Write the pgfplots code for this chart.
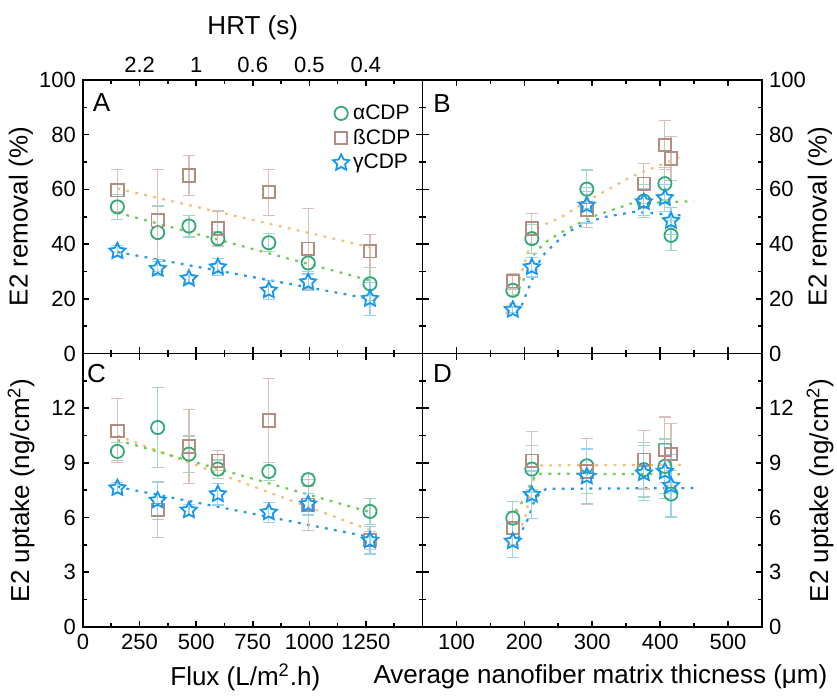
\documentclass[border=0pt]{standalone}
\usepackage{pgfplots}
\usepackage{pgfplotstable}
\pgfplotsset{compat=1.18}
\usepackage{fontspec}
\setmainfont{Liberation Sans}
\definecolor{cA}{RGB}{52,168,118}
\definecolor{cB}{RGB}{178,142,130}
\definecolor{cG}{RGB}{22,152,240}
\definecolor{tA}{RGB}{110,205,80}
\definecolor{tB}{RGB}{245,190,120}
\definecolor{tG}{RGB}{40,150,230}
\pgfdeclareplotmark{fstar}{%
  \pgfpathmoveto{\pgfpointpolar{90}{\pgfplotmarksize}}%
  \pgfpathlineto{\pgfpointpolar{126}{0.5\pgfplotmarksize}}%
  \pgfpathlineto{\pgfpointpolar{162}{\pgfplotmarksize}}%
  \pgfpathlineto{\pgfpointpolar{198}{0.5\pgfplotmarksize}}%
  \pgfpathlineto{\pgfpointpolar{234}{\pgfplotmarksize}}%
  \pgfpathlineto{\pgfpointpolar{270}{0.5\pgfplotmarksize}}%
  \pgfpathlineto{\pgfpointpolar{306}{\pgfplotmarksize}}%
  \pgfpathlineto{\pgfpointpolar{342}{0.5\pgfplotmarksize}}%
  \pgfpathlineto{\pgfpointpolar{18}{\pgfplotmarksize}}%
  \pgfpathlineto{\pgfpointpolar{54}{0.5\pgfplotmarksize}}%
  \pgfpathclose
  \pgfusepathqstroke
}
\tikzset{plabel/.style={font=\fontsize{13}{15}\selectfont}}
\pgfplotsset{
  panel/.style={
    scale only axis, width=169.75pt, height=136.75pt,
    axis line style={line width=0.9pt},
    every tick/.style={black, line width=0.8pt},
    major tick length=3.2pt, minor tick length=1.8pt,
    tick align=inside,
    tick label style={font=\fontsize{11}{13}\selectfont},
    label style={font=\fontsize{13}{15}\selectfont},
    /pgf/number format/assume math mode=true,
    /pgf/number format/1000 sep={},
    xtick pos=both, ytick pos=both,
    legend style={draw=none, fill=none, font=\fontsize{10.5}{11}\selectfont, inner sep=0.5pt, row sep=-0.6pt},
    legend cell align=left,
  },
  sA/.style={only marks, mark=o, mark size=3.3pt, color=cA, line width=0.9pt,
     error bars/y dir=both, error bars/y explicit,
     error bars/error bar style={cA!45, line width=0.6pt},
     error bars/error mark options={rotate=90, mark size=3pt, cA!45, line width=0.6pt}},
  sB/.style={only marks, mark=square, mark size=3.1pt, color=cB, line width=0.9pt,
     error bars/y dir=both, error bars/y explicit,
     error bars/error bar style={cB!55, line width=0.6pt},
     error bars/error mark options={rotate=90, mark size=3pt, cB!55, line width=0.6pt}},
  sG/.style={only marks, mark=fstar, mark size=4.2pt, color=cG, line width=0.9pt,
     error bars/y dir=both, error bars/y explicit,
     error bars/error bar style={cG!45, line width=0.6pt},
     error bars/error mark options={rotate=90, mark size=3pt, cG!45, line width=0.6pt}},
  trend/.style={forget plot, no marks, line width=1.1pt, dash pattern=on 1.4pt off 3.2pt},
}
\pgfplotstableread{
x a ea b eb g eg
152 53.6 4.5 59.7 7.7 37.4 2.0
330 44.2 9.7 48.7 18.7 31.0 2.5
468 46.6 4.0 65.1 7.4 27.4 1.5
596 42.0 2.5 45.7 6.4 31.6 3.0
821 40.5 3.3 59.0 8.4 23.1 3.5
995 33.1 3.0 38.3 14.7 26.1 3.0
1268 25.5 6.0 37.4 6.0 20.0 6.0
}\dataA
\pgfplotstableread{
x a ea b eb g eg
183 23.1 2.0 26.4 2.8 16.0 1.0
211 42.0 5.3 45.7 5.5 31.6 3.6
292 60.1 7.0 52.6 6.6 54.2 6.5
376 55.7 6.0 62.1 7.4 55.4 5.0
407 62.1 6.0 76.2 9.0 56.9 5.0
416 43.2 5.5 71.3 8.0 48.5 5.0
}\dataB
\pgfplotstableread{
x a ea b eb g eg
152 9.63 0.5 10.76 1.75 7.62 0.3
330 10.94 2.2 6.43 1.5 6.94 1.05
468 9.48 1.0 9.90 2.05 6.40 0.3
596 8.66 0.5 9.12 0.55 7.29 0.6
821 8.53 0.5 11.33 2.3 6.29 0.55
995 8.08 0.35 6.71 1.4 6.74 0.6
1268 6.34 0.7 4.75 0.5 4.75 0.75
}\dataC
\pgfplotstableread{
x a ea b eb g eg
183 5.97 0.9 5.43 0.9 4.70 0.9
211 8.66 1.3 9.12 1.6 7.26 1.3
292 8.84 1.5 8.53 1.8 8.26 1.5
376 8.63 1.5 9.17 1.6 8.44 1.5
407 8.81 1.5 9.72 1.8 8.53 1.5
416 7.29 1.3 9.48 1.7 7.75 1.7
}\dataD
\begin{document}
\begin{tikzpicture}
\useasboundingbox (-41.5pt,-34.5pt) rectangle (377pt,313.5pt);
% ---------------- A
\begin{axis}[panel, at={(0pt,136.75pt)}, anchor=south west,
  xmin=0, xmax=1500, ymin=0, ymax=100,
  xtick={0,250,...,1250}, minor xtick={125,375,...,1375},
  xticklabel pos=upper, xticklabels={,2.2,1,0.6,0.5,0.4},
  xlabel={HRT (s)},
  xlabel style={at={(axis description cs:0.5,1)}, anchor=center, yshift=26pt},
  ytick={0,20,...,100}, minor ytick={10,30,...,90},
  ylabel={E2 removal (\%)},
  ylabel style={at={([xshift=-31pt]axis description cs:0,0.5)}, anchor=center},
  legend style={at={(0.98,0.93)}, anchor=north east},
]
\addplot[trend, tB] coordinates {(152,60.3) (1268,38.9)};
\addplot[trend, tA] coordinates {(152,51.5) (1268,26.7)};
\addplot[trend, tG] coordinates {(152,37.1) (1268,20.0)};
\addplot[sA] table[x=x, y=a, y error=ea] {\dataA};
\addlegendentry{αCDP}
\addplot[sB] table[x=x, y=b, y error=eb] {\dataA};
\addlegendentry{ßCDP}
\addplot[sG] table[x=x, y=g, y error=eg] {\dataA};
\addlegendentry{γCDP}
\node[plabel] at (rel axis cs:0,1) [xshift=9.25pt, yshift=-11.25pt] {A};
\end{axis}
% ---------------- B
\begin{axis}[panel, at={(169.75pt,136.75pt)}, anchor=south west,
  xmin=50, xmax=550, ymin=0, ymax=100,
  xtick={100,200,...,500}, minor tick num=1, xticklabels={},
  ytick={0,20,...,100}, minor ytick={10,30,...,90},
  yticklabel pos=right,
  ylabel={E2 removal (\%)},
  ylabel style={at={([xshift=29pt]axis description cs:1,0.5)}, anchor=center, rotate=0},
]
\addplot[trend, tB] coordinates {(173,14.5) (191,25.5) (216,45.7) (255,49.9) (294,56.0) (357,64.6) (433,72.2)};
\addplot[trend, tA] coordinates {(186,20.6) (201,28.0) (216,37.1) (235,41.4) (260,45.1) (299,49.9) (357,54.8) (450,55.7)};
\addplot[trend, tG] coordinates {(196,17.6) (213,28.0) (225,35.3) (245,40.2) (264,44.4) (294,48.1) (318,49.9) (362,51.8) (430,50.5)};
\addplot[sA] table[x=x, y=a, y error=ea] {\dataB};
\addplot[sB] table[x=x, y=b, y error=eb] {\dataB};
\addplot[sG] table[x=x, y=g, y error=eg] {\dataB};
\node[plabel] at (rel axis cs:0,1) [xshift=9.75pt, yshift=-11.75pt] {B};
\end{axis}
% ---------------- C
\begin{axis}[panel, at={(0pt,0pt)}, anchor=south west,
  xmin=0, xmax=1500, ymin=0, ymax=15,
  xtick={0,250,...,1250}, minor xtick={125,375,...,1375},
  ytick={0,3,...,12}, minor ytick={1.5,4.5,...,13.5},
  xlabel={Flux (L/m\textsuperscript{2}.h)},
  xlabel style={at={(axis description cs:0.478,0)}, anchor=center, yshift=-25pt},
  ylabel={E2 uptake (ng/cm\textsuperscript{2})},
  ylabel style={at={([xshift=-31pt]axis description cs:0,0.5)}, anchor=center},
]
\addplot[trend, tB] coordinates {(152,10.49) (1268,5.32)};
\addplot[trend, tA] coordinates {(152,10.25) (1268,6.30)};
\addplot[trend, tG] coordinates {(152,7.69) (1268,4.93)};
\addplot[sA] table[x=x, y=a, y error=ea] {\dataC};
\addplot[sB] table[x=x, y=b, y error=eb] {\dataC};
\addplot[sG] table[x=x, y=g, y error=eg] {\dataC};
\node[plabel] at (rel axis cs:0,1) [xshift=6.75pt, yshift=-10.25pt] {C};
\end{axis}
% ---------------- D
\begin{axis}[panel, at={(169.75pt,0pt)}, anchor=south west,
  xmin=50, xmax=550, ymin=0, ymax=15,
  xtick={100,200,...,500}, minor tick num=1,
  ytick={0,3,...,12}, minor ytick={1.5,4.5,...,13.5},
  yticklabel pos=right,
  xlabel={Average nanofiber matrix thicness (μm)},
  xlabel style={at={(axis description cs:-0.165,0)}, anchor=west, yshift=-25pt},
  ylabel={E2 uptake (ng/cm\textsuperscript{2})},
  ylabel style={at={([xshift=29pt]axis description cs:1,0.5)}, anchor=center, rotate=0},
]
\addplot[trend, tB] coordinates {(191,5.1) (201,5.97) (213,7.98) (220,8.86) (438,8.9)};
\addplot[trend, tA] coordinates {(187,6.34) (201,7.07) (210,7.98) (219,8.41) (438,8.38)};
\addplot[trend, tG] coordinates {(191,4.88) (206,5.97) (216,7.07) (232,7.58) (450,7.62)};
\addplot[sA] table[x=x, y=a, y error=ea] {\dataD};
\addplot[sB] table[x=x, y=b, y error=eb] {\dataD};
\addplot[sG] table[x=x, y=g, y error=eg] {\dataD};
\node[plabel] at (rel axis cs:0,1) [xshift=10pt, yshift=-10.25pt] {D};
\end{axis}
\end{tikzpicture}
\end{document}
